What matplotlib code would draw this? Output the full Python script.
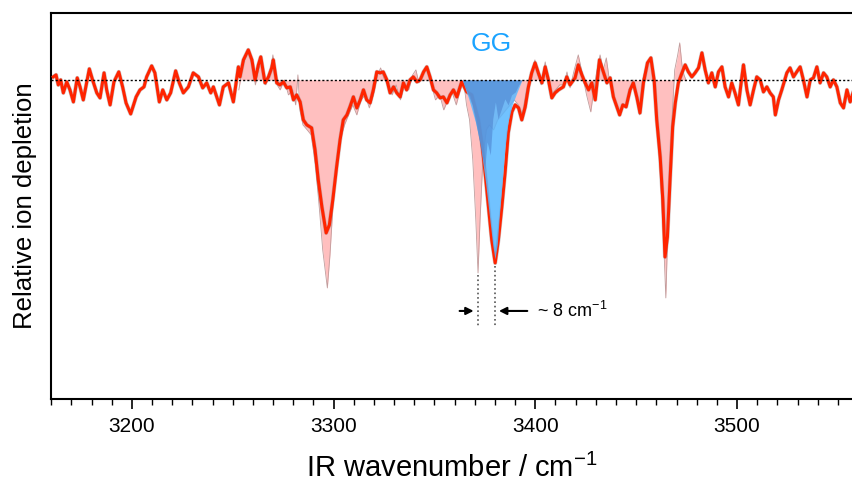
import matplotlib.pyplot as plt
from matplotlib.ticker import MultipleLocator

plt.rcParams['font.family'] = ['Liberation Sans', 'DejaVu Sans']
plt.rcParams['mathtext.fontset'] = 'custom'
plt.rcParams['mathtext.rm'] = 'Liberation Sans'

# smoothed spectrum (red), depletion in %
smooth_wn = [3161.0, 3162.4, 3163.5, 3164.7, 3166.0, 3167.7, 3169.3, 3171.0, 3172.9, 3174.3,
             3175.9, 3178.9, 3180.5, 3182.6, 3184.2, 3186.2, 3187.5, 3189.2, 3191.1, 3193.5,
             3195.4, 3197.1, 3199.4, 3202.1, 3204.0, 3206.0, 3207.3, 3209.8, 3211.4, 3213.6,
             3215.3, 3217.3, 3219.2, 3221.7, 3223.5, 3225.5, 3228.0, 3230.4, 3233.0, 3235.1,
             3237.1, 3239.1, 3240.4, 3243.4, 3245.3, 3247.9, 3250.3, 3252.8, 3253.6, 3255.3,
             3257.7, 3259.5, 3261.1, 3262.7, 3263.9, 3266.0, 3267.7, 3269.3, 3270.1, 3271.8,
             3273.4, 3275.1, 3276.8, 3278.5, 3280.1, 3281.7, 3283.4, 3285.0, 3286.7, 3289.1,
             3290.8, 3292.4, 3294.2, 3296.3, 3297.9, 3299.6, 3301.5, 3303.2, 3304.8, 3306.6,
             3308.1, 3309.8, 3311.5, 3313.2, 3314.8, 3316.4, 3318.1, 3319.7, 3321.4, 3323.0,
             3324.6, 3326.4, 3328.0, 3329.7, 3331.3, 3333.0, 3334.6, 3336.2, 3337.9, 3339.5,
             3341.3, 3342.9, 3344.6, 3346.2, 3347.8, 3349.5, 3351.1, 3352.8, 3354.4, 3356.2,
             3357.8, 3359.4, 3361.1, 3363.5, 3366.0, 3368.5, 3370.1, 3371.8, 3373.5, 3375.1,
             3376.8, 3378.4, 3380.1, 3381.7, 3383.4, 3385.0, 3386.6, 3388.4, 3390.0, 3391.7,
             3393.3, 3395.0, 3396.6, 3398.2, 3399.9, 3401.5, 3403.3, 3404.9, 3406.5, 3408.2,
             3409.8, 3411.5, 3413.9, 3415.6, 3417.2, 3419.7, 3421.3, 3423.1, 3424.7, 3426.4,
             3428.0, 3429.7, 3431.8, 3433.4, 3435.5, 3437.1, 3438.7, 3440.4, 3441.8, 3443.4,
             3445.0, 3447.0, 3448.6, 3450.4, 3451.9, 3453.6, 3455.6, 3457.3, 3458.9, 3460.2,
             3461.9, 3463.2, 3464.3, 3465.5, 3466.8, 3468.1, 3469.4, 3470.9, 3472.7, 3474.3,
             3475.9, 3477.6, 3479.2, 3480.9, 3482.6, 3484.2, 3485.8, 3487.5, 3489.2, 3490.8,
             3492.5, 3494.1, 3495.8, 3497.4, 3499.0, 3500.7, 3502.4, 3503.2, 3504.9, 3506.5,
             3508.2, 3509.8, 3511.5, 3513.1, 3514.8, 3516.4, 3518.0, 3519.0, 3520.6, 3522.2,
             3524.7, 3526.3, 3528.0, 3529.6, 3531.3, 3532.9, 3534.7, 3536.3, 3537.9, 3539.6,
             3541.2, 3542.9, 3544.5, 3546.2, 3547.8, 3549.5, 3551.2, 3552.8, 3554.5, 3556.1,
             3557.5]
smooth_dep = [0.3, 0.5, -0.5, 0.0, -1.3, -0.2, -1.0, -2.2, 0.2, -0.7,
              -2.0, 1.1, 0.0, -1.3, -1.8, 0.7, -1.0, -2.5, -0.2, 0.8,
              -0.7, -2.3, -3.4, -1.7, -1.0, -0.7, 0.3, 1.4, 0.7, -2.2,
              -1.0, -2.0, -1.3, 0.9, -0.3, -1.3, -0.7, 0.7, 0.3, -0.8,
              -0.3, -1.3, -0.7, -2.5, -0.7, -0.3, -2.2, 1.3, 0.3, 2.0,
              3.0, 2.0, 0.0, 1.5, 2.3, -0.3, 0.3, 1.2, 2.0, -0.3,
              -0.5, -0.2, -0.8, -0.7, -2.0, -1.5, -2.2, -4.0, -4.5, -4.8,
              -7.0, -10.0, -12.7, -15.3, -14.5, -12.0, -8.7, -6.0, -4.0, -3.5,
              -2.7, -1.7, -2.8, -2.0, -1.0, -2.0, -2.3, -1.0, 0.8, 0.7,
              0.8, 0.0, -1.3, -0.7, -1.3, -1.7, -0.3, -1.0, 0.0, 0.3,
              -0.2, 0.0, 0.8, 1.3, 0.3, -1.0, -1.3, -1.8, -1.7, -2.3,
              -1.5, -1.0, -1.7, -0.2, -1.2, -1.5, -2.7, -4.0, -6.3, -9.3,
              -12.7, -16.0, -18.3, -16.0, -12.7, -9.3, -5.3, -3.2, -2.5, -2.8,
              -4.0, -2.7, -0.7, 0.7, 1.7, 0.7, -0.3, 1.3, 0.0, -1.8,
              -1.3, -1.0, -0.7, 0.3, -0.5, 0.2, 1.5, 0.5, -0.3, -1.0,
              -0.3, -2.0, 2.0, 1.0, -0.3, 0.2, -1.7, -2.7, -3.5, -2.5,
              -2.7, -1.0, -0.3, -1.8, -3.3, -0.3, 1.7, 2.2, 0.0, -4.0,
              -7.7, -12.0, -17.7, -15.7, -10.0, -4.7, -2.3, -0.3, 0.7, 1.5,
              0.8, 0.3, 0.7, 1.2, 2.7, 1.0, -0.3, 0.7, -0.7, 0.8,
              1.3, -0.7, -1.7, -0.3, -1.3, -2.5, 0.3, 1.5, -1.0, -2.5,
              -1.0, 0.3, 0.0, -1.2, -0.7, -1.3, -1.7, -3.5, -2.0, -1.0,
              0.7, 1.2, 0.3, 0.8, 1.3, 0.0, -1.7, 0.0, 0.2, 1.3,
              -0.3, 0.7, 0.3, -0.7, 0.0, -0.7, -2.3, -2.8, -1.0, -2.2,
              -1.3]

# raw spectrum (pink fill)
raw_wn = [3253.0, 3255.1, 3257.6, 3259.7, 3261.2, 3262.8, 3264.3, 3266.3, 3268.4, 3269.9,
          3272.0, 3273.5, 3275.6, 3277.6, 3279.7, 3281.2, 3282.3, 3283.3, 3284.8, 3286.9,
          3288.9, 3291.0, 3293.0, 3294.6, 3296.9, 3298.2, 3299.7, 3301.2, 3303.3, 3305.4,
          3307.4, 3309.5, 3311.5, 3313.6, 3315.6, 3317.7, 3319.7, 3321.8, 3323.3, 3324.9,
          3326.9, 3329.0, 3331.0, 3333.1, 3335.1, 3337.2, 3339.2, 3340.8, 3342.3, 3344.4,
          3346.4, 3348.5, 3350.5, 3352.6, 3354.6, 3356.7, 3358.7, 3360.8, 3362.8, 3364.4,
          3365.9, 3367.4, 3369.0, 3370.5, 3371.6, 3372.6, 3374.1, 3375.7, 3377.2, 3379.3,
          3381.3, 3383.4, 3385.4, 3387.5, 3389.5, 3391.6, 3393.6, 3395.7, 3397.7, 3399.8,
          3401.3, 3402.9, 3404.9, 3406.5, 3408.0, 3410.0, 3412.1, 3414.2, 3415.7, 3417.2,
          3419.3, 3421.3, 3423.4, 3425.4, 3427.5, 3429.0, 3430.6, 3432.1, 3433.7, 3435.2,
          3436.7, 3438.3, 3440.3, 3441.9, 3443.4, 3444.9, 3447.0, 3448.5, 3450.1, 3451.6,
          3453.2, 3455.2, 3457.3, 3458.8, 3460.3, 3461.9, 3463.4, 3464.7, 3465.7, 3467.0,
          3468.0, 3469.1, 3470.6, 3471.6, 3472.7, 3473.7, 3474.7]
raw_dep = [-1.0, 1.5, 2.8, 1.5, -0.5, 1.0, 2.0, -0.5, 0.5, 2.5,
           -0.5, -1.0, 0.0, -1.5, -1.0, -2.5, 0.5, -3.0, -4.5, -5.0,
           -5.5, -8.5, -13.0, -17.0, -20.8, -17.5, -12.5, -9.0, -6.0, -4.5,
           -3.5, -2.5, -3.5, -2.0, -1.5, -2.8, -1.5, 0.5, 1.2, 0.2,
           -0.5, -1.5, -0.5, -2.0, -0.5, -1.0, 0.5, 1.0, -0.3, 0.8,
           1.0, -0.5, -2.0, -1.5, -3.0, -2.0, -1.2, -2.5, -1.0, 0.0,
           -2.5, -4.0, -8.0, -14.0, -19.3, -14.0, -7.5, -5.0, -4.5, -5.0,
           -4.0, -3.5, -3.0, -2.5, -2.0, -2.5, -3.5, -1.0, 0.5, 2.0,
           0.5, -0.5, 1.8, 0.0, -1.5, -1.0, -0.5, -0.5, 0.8, -0.8,
           1.0, 2.5, 0.5, -1.5, -3.2, -1.0, 1.0, 2.5, 1.0, 2.2,
           0.0, -1.5, -2.5, -3.5, -2.5, -2.5, -0.8, 0.0, -1.5, -3.5,
           0.0, 1.5, 2.0, 0.0, -4.5, -9.0, -15.0, -21.8, -15.0, -8.0,
           -3.0, 1.0, 2.5, 3.7, 1.5, 0.5, 0.0]

# GG conformer band (blue)
gg_wn = [3363.8, 3367.0, 3370.3, 3372.8, 3375.3, 3377.2, 3378.9, 3380.0, 3381.1, 3382.2,
         3383.6, 3384.9, 3386.5, 3388.5, 3391.0, 3393.4]
gg_dep = [0.0, -1.9, -4.2, -6.5, -10.2, -13.5, -16.5, -17.9, -16.5, -13.5,
          -10.2, -6.9, -4.2, -2.5, -1.2, 0.0]
gg2_wn = [3363.8, 3366.2, 3368.7, 3371.1, 3373.6, 3374.9, 3376.1, 3377.7, 3378.9, 3380.2,
          3381.5, 3383.2, 3384.9, 3386.5, 3388.2, 3390.1, 3391.8, 3393.4]
gg2_dep = [0.0, -1.2, -2.5, -4.9, -7.5, -8.9, -6.2, -7.5, -3.9, -2.2,
           -3.9, -2.9, -1.9, -2.5, -1.5, -1.2, -0.5, 0.0]

peak_a = 3371.6
peak_b = 3379.8

fig = plt.figure(figsize=(8.53, 4.95), dpi=100)
ax = fig.add_axes([0.0598, 0.194, 0.9402, 0.780])

ax.fill_between(raw_wn, 0, raw_dep, color='#ffbfbf', lw=0, zorder=1)
ax.plot(raw_wn, raw_dep, color='#c09c9c', lw=0.6, zorder=2)
ax.plot(smooth_wn, smooth_dep, color='#9a8080', lw=3.0, alpha=0.45, zorder=2.5)
ax.plot(smooth_wn, smooth_dep, color='#ff2400', lw=2.2, zorder=3)
ax.fill_between(gg_wn, 0, gg_dep, color='#58b8ff', alpha=0.85, lw=0, zorder=4)
ax.fill_between(gg2_wn, 0, gg2_dep, color='#4c7fcc', alpha=0.55, lw=0, zorder=5)
ax.axhline(0, color='black', ls=(0, (1.5, 1.5)), lw=1.0, zorder=6)

# peak splitting annotation
ax.plot([peak_a, peak_a], [-19.5, -24.6], color='#555555', ls=':', lw=1.2, zorder=6)
ax.plot([peak_b, peak_b], [-18.6, -24.6], color='#555555', ls=':', lw=1.2, zorder=6)
ax.annotate('', xy=(peak_a - 0.8, -23.1), xytext=(peak_a - 10.5, -23.1),
            arrowprops=dict(arrowstyle='-|>', color='black', lw=1.5, mutation_scale=11))
ax.annotate('', xy=(peak_b + 0.8, -23.1), xytext=(peak_b + 17.6, -23.1),
            arrowprops=dict(arrowstyle='-|>', color='black', lw=1.5, mutation_scale=11))
ax.text(3400.9, -23.1, '~ 8 cm$^{\\mathregular{-1}}$', fontsize=13, va='center', ha='left')

ax.text(3378.1, 3.6, 'GG', color='#1aa3ff', fontsize=19, ha='center', va='center')

ax.set_xlim(3159.9, 3557.5)
ax.set_ylim(-31.9, 6.7)
ax.xaxis.set_major_locator(MultipleLocator(100))
ax.xaxis.set_minor_locator(MultipleLocator(10))
ax.tick_params(axis='x', which='major', direction='out', length=7, width=1.2, labelsize=15, pad=6)
ax.tick_params(axis='x', which='minor', direction='out', length=4, width=1.0)
ax.set_yticks([])
ax.spines['right'].set_visible(False)
for s in ['left', 'bottom', 'top']:
    ax.spines[s].set_linewidth(1.5)

ax.set_xlabel('IR wavenumber / cm$^{\\mathregular{-1}}$', fontsize=21, labelpad=13)
ax.set_ylabel('Relative ion depletion', fontsize=18.5, labelpad=10)

plt.savefig('out.png', dpi=100)
